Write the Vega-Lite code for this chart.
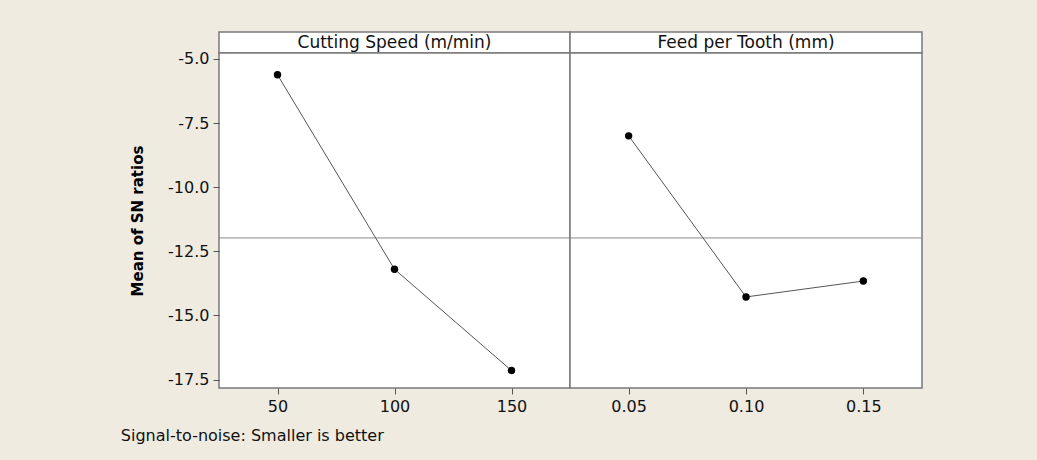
{
  "$schema": "https://vega.github.io/schema/vega-lite/v6.json",
  "background": "#EFEBE1",
  "padding": {"left": 120, "top": 31, "right": 117, "bottom": 17},
  "datasets": {
    "effects": [
      {"factor": "Cutting Speed (m/min)", "level": 50, "sn": -5.62},
      {"factor": "Cutting Speed (m/min)", "level": 100, "sn": -13.2},
      {"factor": "Cutting Speed (m/min)", "level": 150, "sn": -17.15},
      {"factor": "Feed per Tooth (mm)", "level": 0.05, "sn": -8.0},
      {"factor": "Feed per Tooth (mm)", "level": 0.1, "sn": -14.28},
      {"factor": "Feed per Tooth (mm)", "level": 0.15, "sn": -13.66}
    ],
    "grand": [{"mean": -11.98}],
    "headers1": [{"h": "Cutting Speed (m/min)"}],
    "headers2": [{"h": "Feed per Tooth (mm)"}]
  },
  "title": {
    "text": "Signal-to-noise: Smaller is better",
    "orient": "bottom",
    "anchor": "start",
    "frame": "bounds",
    "font": "DejaVu Sans",
    "fontSize": 16,
    "fontWeight": "normal",
    "color": "#111111",
    "offset": 13,
    "dx": -9
  },
  "columns": 2,
  "bounds": "flush",
  "spacing": 0,
  "concat": [
    {
      "width": 351, "height": 21,
      "data": {"name": "headers1"},
      "layer": [
        {"mark": {"type": "rect", "fill": "#FFFFFF", "stroke": "#7a7a7a", "strokeWidth": 1.5}, "encoding": {}},
        {"mark": {"type": "text", "font": "DejaVu Sans", "fontSize": 17, "color": "#111111"},
         "encoding": {"text": {"field": "h", "type": "nominal"}}}
      ]
    },
    {
      "width": 352, "height": 21,
      "data": {"name": "headers2"},
      "layer": [
        {"mark": {"type": "rect", "fill": "#FFFFFF", "stroke": "#7a7a7a", "strokeWidth": 1.5}, "encoding": {}},
        {"mark": {"type": "text", "font": "DejaVu Sans", "fontSize": 17, "color": "#111111"},
         "encoding": {"text": {"field": "h", "type": "nominal"}}}
      ]
    },
    {
      "width": 351, "height": 335,
      "layer": [
        {
          "data": {"name": "grand"},
          "mark": {"type": "rule", "color": "#8a8a8a", "strokeWidth": 1},
          "encoding": {
            "y": {"field": "mean", "type": "quantitative", "scale": {"domain": [-17.83, -4.77], "nice": false, "zero": false}}
          }
        },
        {
          "data": {"name": "effects"},
          "transform": [{"filter": "datum.factor === 'Cutting Speed (m/min)'"}],
          "mark": {"type": "line", "color": "#555555", "strokeWidth": 1},
          "encoding": {
            "x": {"field": "level", "type": "quantitative", "scale": {"domain": [25, 175], "nice": false, "zero": false}},
            "y": {"field": "sn", "type": "quantitative", "scale": {"domain": [-17.83, -4.77], "nice": false, "zero": false}}
          }
        },
        {
          "data": {"name": "effects"},
          "transform": [{"filter": "datum.factor === 'Cutting Speed (m/min)'"}],
          "mark": {"type": "point", "filled": true, "color": "#000000", "size": 55, "opacity": 1},
          "encoding": {
            "x": {"field": "level", "type": "quantitative", "scale": {"domain": [25, 175], "nice": false, "zero": false},
              "axis": {"values": [50, 100, 150], "format": "d", "title": null}},
            "y": {"field": "sn", "type": "quantitative", "scale": {"domain": [-17.83, -4.77], "nice": false, "zero": false},
              "axis": {"values": [-17.5, -15, -12.5, -10, -7.5, -5], "format": ".1f", "title": "Mean of SN ratios", "titlePadding": 22}}
          }
        }
      ]
    },
    {
      "width": 352, "height": 335,
      "layer": [
        {
          "data": {"name": "grand"},
          "mark": {"type": "rule", "color": "#8a8a8a", "strokeWidth": 1},
          "encoding": {
            "y": {"field": "mean", "type": "quantitative", "scale": {"domain": [-17.83, -4.77], "nice": false, "zero": false}, "axis": null}
          }
        },
        {
          "data": {"name": "effects"},
          "transform": [{"filter": "datum.factor === 'Feed per Tooth (mm)'"}],
          "mark": {"type": "line", "color": "#555555", "strokeWidth": 1},
          "encoding": {
            "x": {"field": "level", "type": "quantitative", "scale": {"domain": [0.025, 0.175], "nice": false, "zero": false}},
            "y": {"field": "sn", "type": "quantitative", "scale": {"domain": [-17.83, -4.77], "nice": false, "zero": false}, "axis": null}
          }
        },
        {
          "data": {"name": "effects"},
          "transform": [{"filter": "datum.factor === 'Feed per Tooth (mm)'"}],
          "mark": {"type": "point", "filled": true, "color": "#000000", "size": 55, "opacity": 1},
          "encoding": {
            "x": {"field": "level", "type": "quantitative", "scale": {"domain": [0.025, 0.175], "nice": false, "zero": false},
              "axis": {"values": [0.05, 0.1, 0.15], "format": ".2f", "title": null}},
            "y": {"field": "sn", "type": "quantitative", "scale": {"domain": [-17.83, -4.77], "nice": false, "zero": false}, "axis": null}
          }
        }
      ]
    }
  ],
  "resolve": {"scale": {"x": "independent", "y": "independent"}},
  "config": {
    "font": "DejaVu Sans",
    "locale": {"number": {"decimal": ".", "thousands": ",", "grouping": [3], "currency": ["$", ""], "minus": "-"}},
    "view": {"fill": "#FFFFFF", "stroke": "#7a7a7a", "strokeWidth": 1.5},
    "axis": {
      "domain": false,
      "grid": false,
      "ticks": true,
      "tickColor": "#555555",
      "tickSize": 6,
      "labelFont": "DejaVu Sans",
      "labelFontSize": 16,
      "labelColor": "#111111",
      "labelPadding": 4,
      "titleFont": "DejaVu Sans",
      "titleFontSize": 15,
      "titleFontWeight": "bold",
      "titleColor": "#000000",
      "titlePadding": 14
    }
  }
}
